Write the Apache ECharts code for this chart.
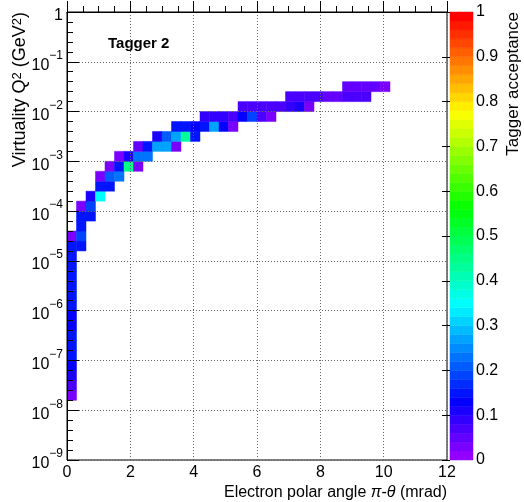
<!DOCTYPE html>
<html><head><meta charset="utf-8">
<script src="https://cdn.jsdelivr.net/npm/echarts@6/dist/echarts.min.js"></script>
<style>html,body{margin:0;padding:0;background:#fff}#c{width:524px;height:502px}</style>
</head><body><div id="c"></div>
<script>
// ---- histogram binning ----
const xBinWidth = 0.3;        // mrad
const logQ2BinWidth = 0.2;    // decades of Q^2
const xTicks = [0, 2, 4, 6, 8, 10, 12];
const logQ2Ticks = [-9, -8, -7, -6, -5, -4, -3, -2, -1, 0];
const accTicks = [0, 0.1, 0.2, 0.3, 0.4, 0.5, 0.6, 0.7, 0.8, 0.9, 1];

// ---- filled cells: lower x edge (mrad), lower log10(Q^2) edge, acceptance ----
const binXLow = [
  0,0,0,0,0,0,0,0,0,0,0,0,0,0,0,0,0,
  0.3,0.3,0.3,0.3,0.3,
  0.6,0.6,0.6,
  0.9,0.9,0.9,
  1.2,1.2,1.2,
  1.5,1.5,1.5,
  1.8,1.8,
  2.1,2.1,2.1,
  2.4,2.4,
  2.7,2.7,
  3.0,3.0,
  3.3,3.3,3.3,
  3.6,3.6,
  3.9,3.9,
  4.2,4.2,
  4.5,4.5,
  4.8,4.8,
  5.1,5.1,
  5.4,5.4,
  5.7,5.7,
  6.0,6.0,
  6.3,6.3,
  6.6,
  6.9,6.9,
  7.2,7.2,
  7.5,7.5,
  7.8,
  8.1,
  8.4,
  8.7,8.7,
  9.0,9.0,
  9.3,9.3,
  9.6,
  9.9
];
const binLogQ2Low = [
  -7.8,-7.6,-7.4,-7.2,-7.0,-6.8,-6.6,-6.4,-6.2,-6.0,-5.8,-5.6,-5.4,-5.2,-5.0,-4.8,-4.6,
  -4.8,-4.6,-4.4,-4.2,-4.0,
  -4.2,-4.0,-3.8,
  -3.8,-3.6,-3.4,
  -3.6,-3.4,-3.2,
  -3.4,-3.2,-3.0,
  -3.2,-3.0,
  -3.2,-3.0,-2.8,
  -3.0,-2.8,
  -2.8,-2.6,
  -2.8,-2.6,
  -2.8,-2.6,-2.4,
  -2.6,-2.4,
  -2.6,-2.4,
  -2.4,-2.2,
  -2.4,-2.2,
  -2.4,-2.2,
  -2.4,-2.2,
  -2.2,-2.0,
  -2.2,-2.0,
  -2.2,-2.0,
  -2.2,-2.0,
  -2.0,
  -2.0,-1.8,
  -2.0,-1.8,
  -2.0,-1.8,
  -1.8,
  -1.8,
  -1.8,
  -1.8,-1.6,
  -1.8,-1.6,
  -1.8,-1.6,
  -1.6,
  -1.6
];
const acceptance = [
  0.02,0.06,0.10,0.13,0.14,0.14,0.14,0.13,0.13,0.14,0.14,0.14,0.14,0.14,0.14,0.15,0.02,
  0.15,0.18,0.14,0.15,0.02,
  0.15,0.19,0.11,
  0.34,0.14,0.02,
  0.15,0.20,0.03,
  0.23,0.14,0.02,
  0.44,0.10,
  0.02,0.23,0.04,
  0.22,0.14,
  0.27,0.11,
  0.26,0.21,
  0.02,0.26,0.14,
  0.43,0.14,
  0.14,0.13,
  0.15,0.08,
  0.27,0.08,
  0.12,0.08,
  0.03,0.07,
  0.12,0.06,
  0.18,0.06,
  0.07,0.06,
  0.02,0.06,
  0.07,
  0.08,0.06,
  0.11,0.06,
  0.02,0.06,
  0.06,
  0.05,
  0.04,
  0.07,0.05,
  0.07,0.05,
  0.06,0.05,
  0.05,
  0.03
];

// ---- ROOT "pretty palette" (violet -> red, 50 levels) ----
const NCOL = 50;
function hls(h) {
  const c = 1, hp = h / 60, x = c * (1 - Math.abs(hp % 2 - 1));
  let r = 0, g = 0, b = 0;
  if (hp < 1) { r = c; g = x; } else if (hp < 2) { r = x; g = c; }
  else if (hp < 3) { g = c; b = x; } else if (hp < 4) { g = x; b = c; }
  else if (hp < 5) { r = x; b = c; } else { r = c; b = x; }
  const f = v => Math.round(v * 255);
  return 'rgb(' + f(r) + ',' + f(g) + ',' + f(b) + ')';
}
const palette = [];
for (let i = 0; i < NCOL; i++) palette.push(hls(Math.max(0, 280 - (i + 1) * 280 / NCOL)));
function colorOf(v) { return palette[Math.max(0, Math.min(NCOL - 1, Math.floor(v * NCOL)))]; }

const cells = binXLow.map((x, i) => [x, binLogQ2Low[i], acceptance[i]]);
const barLevels = palette.map((c, i) => [i / NCOL, (i + 1) / NCOL]);

const FONT = 'Liberation Sans, Arial, Helvetica, sans-serif';
const chart = echarts.init(document.getElementById('c'), null, { renderer: 'canvas' });

chart.setOption({
  animation: false,
  backgroundColor: '#fff',
  grid: [
    { left: 67, top: 12, width: 380, height: 448, show: true, borderColor: '#000', borderWidth: 1, backgroundColor: 'transparent' },
    { left: 450, top: 12, width: 23, height: 448 }
  ],
  xAxis: [
    {
      type: 'value', gridIndex: 0, min: xTicks[0], max: xTicks[xTicks.length - 1], interval: 2, z: 5,
      axisLine: { lineStyle: { color: '#000', width: 1 } },
      axisTick: { inside: true, length: 11, lineStyle: { color: '#000' } },
      minorTick: { show: true, splitNumber: 4, length: 6, lineStyle: { color: '#000' } },
      axisLabel: { color: '#000', fontSize: 16, fontFamily: FONT, margin: 5, showMinLabel: true, showMaxLabel: true },
      splitLine: { show: true, lineStyle: { type: [1, 2], color: '#666', width: 1 } }
    },
    { type: 'value', gridIndex: 1, min: 0, max: 1, show: false }
  ],
  yAxis: [
    {
      type: 'value', gridIndex: 0, min: logQ2Ticks[0], max: logQ2Ticks[logQ2Ticks.length - 1], interval: 1, z: 5,
      axisLine: { lineStyle: { color: '#000', width: 1 } },
      axisTick: { inside: true, length: 12, lineStyle: { color: '#000' } },
      minorTick: { show: true, splitNumber: 5, length: 6, lineStyle: { color: '#000' } },
      axisLabel: {
        color: '#000', fontFamily: FONT, margin: 4, showMinLabel: true, showMaxLabel: true,
        formatter: v => v === 0 ? '{b|1}' : '{b|10}{s|\u2212' + (-v) + '}',
        rich: {
          b: { fontSize: 16, fontFamily: FONT, color: '#000', lineHeight: 24, verticalAlign: 'bottom' },
          s: { fontSize: 12, fontFamily: FONT, color: '#000', lineHeight: 14, verticalAlign: 'top' }
        }
      },
      splitLine: { show: true, lineStyle: { type: [1, 2], color: '#666', width: 1 } }
    },
    {
      type: 'value', gridIndex: 1, position: 'right', min: accTicks[0], max: accTicks[accTicks.length - 1], interval: 0.1, z: 5,
      axisLine: { show: false },
      axisTick: { inside: true, length: 8, lineStyle: { color: '#000' } },
      axisLabel: { color: '#000', fontSize: 16, fontFamily: FONT, margin: 3, showMinLabel: true, showMaxLabel: true },
      splitLine: { show: false }
    }
  ],
  series: [
    {
      type: 'custom', xAxisIndex: 0, yAxisIndex: 0, data: cells, clip: true,
      renderItem: function (params, api) {
        const x0 = api.value(0), y0 = api.value(1), v = api.value(2);
        const p0 = api.coord([x0, y0]);
        const p1 = api.coord([x0 + xBinWidth, y0 + logQ2BinWidth]);
        const c = colorOf(v);
        return { type: 'rect', shape: { x: p0[0], y: p1[1], width: p1[0] - p0[0], height: p0[1] - p1[1] },
                 style: { fill: c, stroke: c, lineWidth: 0.5 } };
      }
    },
    {
      type: 'custom', xAxisIndex: 1, yAxisIndex: 1, data: barLevels,
      renderItem: function (params, api) {
        const lo = api.value(0), hi = api.value(1);
        const p0 = api.coord([0, lo]);
        const p1 = api.coord([1, hi]);
        const c = palette[params.dataIndex];
        return { type: 'rect', shape: { x: p0[0], y: p1[1], width: p1[0] - p0[0], height: p0[1] - p1[1] },
                 style: { fill: c, stroke: c, lineWidth: 0.5 } };
      }
    }
  ],
  graphic: [
    { type: 'text', left: 108, top: 36, style: { text: 'Tagger 2', font: 'bold 15px ' + FONT, fill: '#000' } },
    { type: 'text', x: 447, y: 493, style: { text: 'Electron polar angle {i|\u03c0}-{i|\u03b8} (mrad)', align: 'right', verticalAlign: 'middle',
        font: '16px ' + FONT, fill: '#000', rich: { i: { fontStyle: 'italic', fontSize: 16, fontFamily: FONT } } } },
    { type: 'text', x: 20, y: 12, rotation: Math.PI / 2, style: { text: 'Virtuality Q{s|2} (GeV{s|2})', align: 'right', verticalAlign: 'middle',
        font: '18px ' + FONT, fill: '#000', rich: { s: { fontSize: 13, fontFamily: FONT, verticalAlign: 'top', lineHeight: 13 } } } },
    { type: 'text', x: 513, y: 12, rotation: Math.PI / 2, style: { text: 'Tagger acceptance', align: 'right', verticalAlign: 'middle',
        font: '17px ' + FONT, fill: '#000' } }
  ]
});
</script></body></html>
